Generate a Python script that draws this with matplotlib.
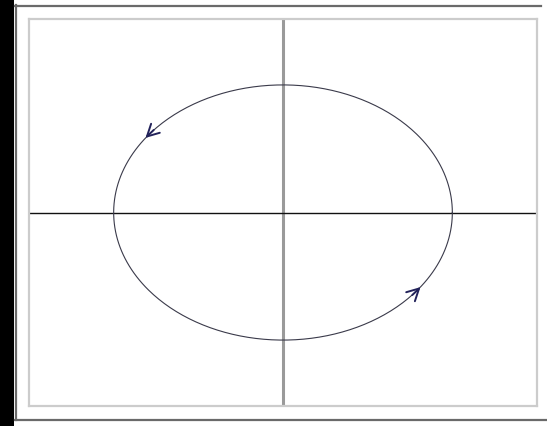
import numpy as np
import matplotlib.pyplot as plt
from matplotlib.patches import Rectangle
from matplotlib.lines import Line2D

# ellipse semi-axes and where the direction arrows sit (degrees)
semi_x = 4.0
semi_y = 3.0
arrow_angles = [142, 322]

W, H = 547, 427
fig = plt.figure(figsize=(W / 100, H / 100), dpi=100)
fig.patch.set_facecolor('white')

# dark strip on the left and the outer frame lines
fig.patches.append(Rectangle((0, 0), 14 / W, 1, transform=fig.transFigure,
                             facecolor='black', edgecolor='none'))
frame_col = '#6a6a6a'
fig.lines.append(Line2D([15 / W, 541 / W], [1 - 6.5 / H, 1 - 6.5 / H],
                        transform=fig.transFigure, color=frame_col, lw=1.6))
fig.lines.append(Line2D([15.5 / W, 15.5 / W], [1 - 6 / H, 1 - 420.5 / H],
                        transform=fig.transFigure, color=frame_col, lw=1.6))
fig.lines.append(Line2D([15 / W, 1], [1 - 420.5 / H, 1 - 420.5 / H],
                        transform=fig.transFigure, color=frame_col, lw=1.6))

ax = fig.add_axes([29 / W, (H - 407) / H, (537 - 29) / W, (407 - 20) / H])
ax.set_xlim(-6, 6)
ax.set_ylim(-4.55, 4.55)
ax.set_xticks([])
ax.set_yticks([])
for s in ax.spines.values():
    s.set_color('#cccccc')
    s.set_linewidth(1.6)

# coordinate axes
ax.axvline(0, color='#9a9a9a', lw=2.2, zorder=1)
ax.axhline(0, color='#111111', lw=1.0, zorder=2)

# the orbit
t = np.linspace(0, 2 * np.pi, 400)
ax.plot(semi_x * np.cos(t), semi_y * np.sin(t), color='#3a3a4a', lw=0.8, zorder=3)

# counter-clockwise direction markers
for a in arrow_angles:
    th = np.radians(a)
    x0, y0 = semi_x * np.cos(th), semi_y * np.sin(th)
    dx, dy = -semi_x * np.sin(th), semi_y * np.cos(th)
    n = np.hypot(dx, dy)
    ax.annotate('', xy=(x0 + 0.2 * dx / n, y0 + 0.2 * dy / n),
                xytext=(x0 - 0.2 * dx / n, y0 - 0.2 * dy / n),
                arrowprops=dict(arrowstyle='->,head_length=0.85,head_width=0.45',
                                color='#22225a', lw=1.4), zorder=4)

fig.savefig('out.png', dpi=100)
